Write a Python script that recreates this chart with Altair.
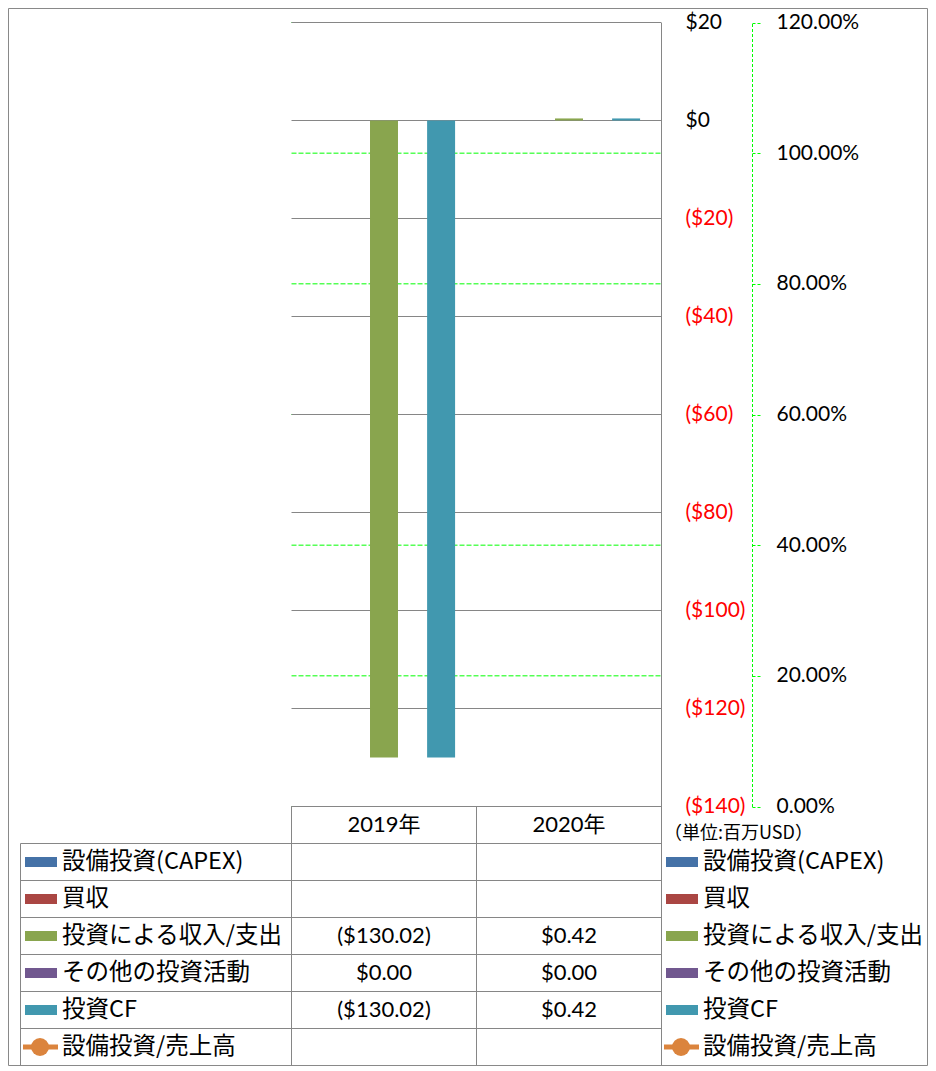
import altair as alt
import pandas as pd

# ---------------- data ----------------
years = ["2019年", "2020年"]
bar_series = ["設備投資(CAPEX)", "買収", "投資による収入/支出", "その他の投資活動", "投資CF"]
line_series = "設備投資/売上高"
capex = [None, None]
acquisitions = [None, None]
investment_income = [-130.02, 0.42]
other_investing = [0.00, 0.00]
investing_cf = [-130.02, 0.42]
capex_to_sales = [None, None]

bar_colors = ["#4572A7", "#AA4643", "#89A54E", "#71588F", "#4198AF"]
line_color = "#DB843D"

usd_ticks = [20, 0, -20, -40, -60, -80, -100, -120, -140]
pct_ticks = [0.0, 0.2, 0.4, 0.6, 0.8, 1.0, 1.2]
unit_note = "（単位:百万USD）"
header_key = "hdr"

# ---------------- tables built from the arrays ----------------
series_values = [capex, acquisitions, investment_income, other_investing, investing_cf]
rows = []
for s, vals in zip(bar_series, series_values):
    for yr, v in zip(years, vals):
        rows.append({"series": s, "year": yr, "value": v})
for yr, v in zip(years, capex_to_sales):
    rows.append({"series": line_series, "year": yr, "value": v})
values_df = pd.DataFrame(rows)
bars_df = values_df[values_df["series"].isin(bar_series)]

all_series = bar_series + [line_series]
all_colors = bar_colors + [line_color]
keys_df = pd.DataFrame({"series": all_series})
bar_keys_df = pd.DataFrame({"series": bar_series})
line_key_df = pd.DataFrame({"series": [line_series]})
years_df = pd.DataFrame({"year": years, "row": [header_key] * len(years)})
usd_df = pd.DataFrame({"usd": usd_ticks})
pct_df = pd.DataFrame({"pct": pct_ticks})
one_df = pd.DataFrame({"a": [0]})
hdr_df = pd.DataFrame({"row": [header_key], "note": [unit_note]})

# ---------------- geometry / styles ----------------
W, H = 920, 1044
PAD_TOP = 14
NUM_FONT = "Lato"
JP_FONT = "Noto Sans CJK JP"
GRID = "#868686"
GREEN = "#00FF00"

x_year = alt.Scale(domain=years, range=[283.5, 653.5], paddingInner=0, paddingOuter=0)
y_usd = alt.Scale(domain=[-140, 20], range=[784.5, 0.5], nice=False, zero=False)
y_pct = alt.Scale(domain=[0, 1.2], range=[784.5, 0.5], nice=False, zero=False)
table_rows = [header_key] + all_series
y_tab = alt.Scale(domain=table_rows, range=[784.5, 1043.5], paddingInner=0, paddingOuter=0)
color_scale = alt.Scale(domain=all_series, range=all_colors)

usd_axis = alt.Axis(
    orient="right", offset=653 - W, values=usd_ticks, grid=False, ticks=False,
    domain=True, domainColor=GRID, domainWidth=1,
    labelPadding=24, labelFont=NUM_FONT, labelFontSize=21,
    labelExpr="datum.value < 0 ? '($' + format(-datum.value, 'd') + ')' : '$' + format(datum.value, 'd')",
    labelColor={"condition": {"test": "datum.value < 0", "value": "#FF0000"}, "value": "#000000"},
    labelFlush=False, labelOverlap=False, labelBound=False, title=None,
)
pct_axis = alt.Axis(
    orient="right", offset=744 - W, values=pct_ticks, format=".2%", grid=False,
    domain=True, domainColor=GREEN, domainDash=[3, 2], domainWidth=1,
    ticks=True, tickColor=GREEN, tickDash=[3, 2], tickSize=8, tickWidth=1,
    labelPadding=16, labelFont=NUM_FONT, labelFontSize=21, labelColor="#000000",
    labelFlush=False, labelOverlap=False, labelBound=False, title=None,
)

# outer frame
frame = alt.Chart(one_df).mark_rect(fill="white", fillOpacity=0, stroke="#898989", strokeWidth=1).encode(
    x=alt.value(0.5), x2=alt.value(919.5), y=alt.value(0.5 - PAD_TOP), y2=alt.value(1043.5)
)

# secondary (percent) gridlines + axis
pct_grid = alt.Chart(pct_df).mark_rule(color=GREEN, strokeDash=[5, 2], strokeWidth=1).encode(
    y=alt.Y("pct:Q", scale=y_pct, axis=pct_axis),
    x=alt.value(283.5), x2=alt.value(653.5),
)

# primary gridlines
usd_grid = alt.Chart(usd_df).mark_rule(color=GRID, strokeWidth=1).encode(
    y=alt.Y("usd:Q", scale=y_usd, axis=None),
    x=alt.value(283.5), x2=alt.value(653.5),
)

# bars
bars = alt.Chart(bars_df).transform_filter("isValid(datum.value)").mark_bar().encode(
    x=alt.X("year:N", scale=x_year, axis=None),
    xOffset=alt.XOffset("series:N", scale=alt.Scale(domain=bar_series, paddingInner=0.02, paddingOuter=0.75)),
    y=alt.Y("value:Q", scale=y_usd, axis=usd_axis, stack=None),
    color=alt.Color("series:N", scale=color_scale, legend=None),
)

# table lines
hdr_line = alt.Chart(hdr_df).mark_rule(color=GRID, strokeWidth=1).encode(
    y=alt.Y("row:N", scale=y_tab, axis=None, bandPosition=0),
    x=alt.value(283.5), x2=alt.value(653.5),
)
row_lines = alt.Chart(keys_df).mark_rule(color=GRID, strokeWidth=1).encode(
    y=alt.Y("series:N", scale=y_tab, axis=None, bandPosition=0),
    x=alt.value(12.5), x2=alt.value(653.5),
)
col_lines = alt.Chart(years_df).mark_rule(color=GRID, strokeWidth=1).encode(
    x=alt.X("year:N", scale=x_year, axis=None, bandPosition=0),
    y=alt.value(784.5), y2=alt.value(1043.5),
)
col_end = alt.Chart(years_df.tail(1)).mark_rule(color=GRID, strokeWidth=1).encode(
    x=alt.X("year:N", scale=x_year, axis=None, bandPosition=1),
    y=alt.value(784.5), y2=alt.value(1043.5),
)
left_col = alt.Chart(one_df).mark_rule(color=GRID, strokeWidth=1).encode(
    x=alt.value(12.5), y=alt.value(821.5), y2=alt.value(1043.5),
)

# header text
hdr_text = alt.Chart(years_df).mark_text(font=f"{NUM_FONT}, {JP_FONT}", fontSize=22, color="black").encode(
    x=alt.X("year:N", scale=x_year, axis=None),
    y=alt.Y("row:N", scale=y_tab, axis=None),
    text="year:N",
)

# cell values
cell_text = alt.Chart(values_df).transform_filter("isValid(datum.value)").transform_calculate(
    label="datum.value < 0 ? '($' + format(-datum.value, ',.2f') + ')' : '$' + format(datum.value, ',.2f')"
).mark_text(font=NUM_FONT, fontSize=22, color="black").encode(
    x=alt.X("year:N", scale=x_year, axis=None),
    y=alt.Y("series:N", scale=y_tab, axis=None),
    text="label:N",
)

unit_text = alt.Chart(hdr_df).mark_text(font=JP_FONT, fontSize=18, color="black", align="left", dy=9).encode(
    x=alt.value(656),
    y=alt.Y("row:N", scale=y_tab, axis=None),
    text="note:N",
)


def legend_block(key_x1, key_x2, text_x):
    keys = alt.Chart(bar_keys_df).mark_rule(strokeWidth=10).encode(
        x=alt.value(key_x1), x2=alt.value(key_x2),
        y=alt.Y("series:N", scale=y_tab, axis=None),
        color=alt.Color("series:N", scale=color_scale, legend=None),
    )
    lkey = alt.Chart(line_key_df).mark_rule(strokeWidth=5).encode(
        x=alt.value(key_x1 - 2), x2=alt.value(key_x2 + 1),
        y=alt.Y("series:N", scale=y_tab, axis=None),
        color=alt.Color("series:N", scale=color_scale, legend=None),
    )
    ldot = alt.Chart(line_key_df).mark_circle(size=324, opacity=1).encode(
        x=alt.value((key_x1 + key_x2) / 2 - 1),
        y=alt.Y("series:N", scale=y_tab, axis=None),
        color=alt.Color("series:N", scale=color_scale, legend=None),
    )
    labels = alt.Chart(keys_df).mark_text(font=JP_FONT, fontSize=23.5, color="black", align="left").encode(
        x=alt.value(text_x),
        y=alt.Y("series:N", scale=y_tab, axis=None),
        text="series:N",
    )
    return [keys, lkey, ldot, labels]


layers = [frame, pct_grid, usd_grid, bars, hdr_line, row_lines, col_lines, col_end, left_col,
          hdr_text, cell_text, unit_text]
layers += legend_block(17, 49, 54)
layers += legend_block(658, 690, 695)

chart = alt.layer(*layers).resolve_scale(
    x="independent", y="independent", color="independent"
).properties(
    width=W, height=H,
    autosize=alt.AutoSizeParams(type="none"),
    padding={"top": PAD_TOP, "left": 0, "right": 0, "bottom": 0},
    background="white",
).configure_view(strokeWidth=0)

chart.save("out.html", embed_options={"renderer": "svg", "actions": False})
